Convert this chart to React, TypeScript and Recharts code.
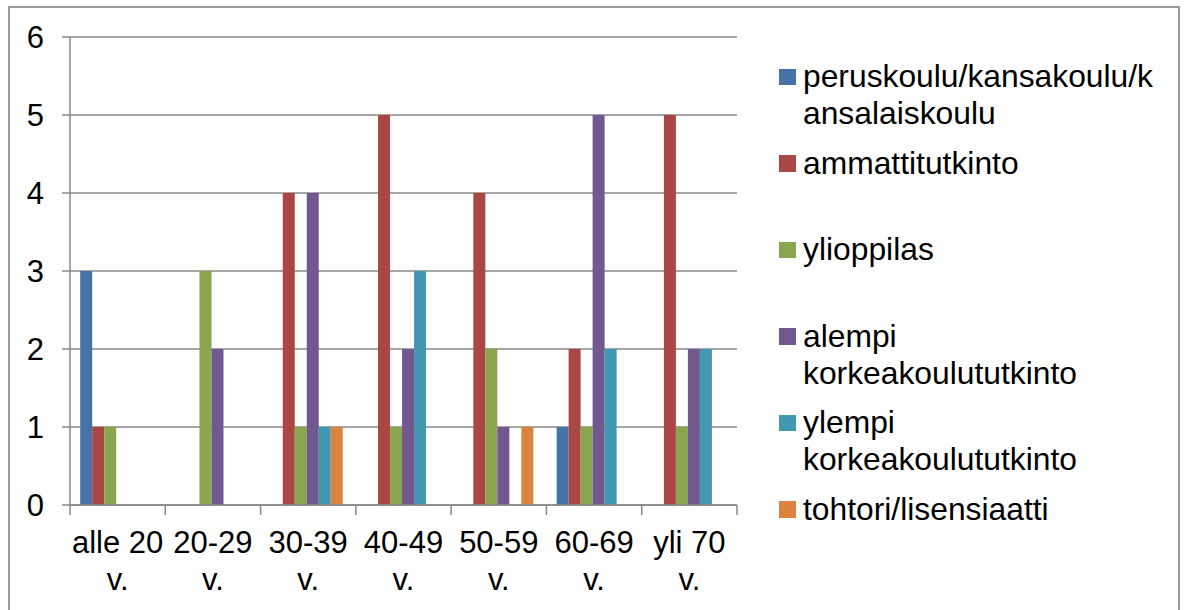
import React from "react";
import { BarChart, Bar, XAxis, YAxis, CartesianGrid } from "recharts";

const categories = ["alle 20 v.", "20-29 v.", "30-39 v.", "40-49 v.", "50-59 v.", "60-69 v.", "yli 70 v."];
const peruskoulu = [3, 0, 0, 0, 0, 1, 0];
const ammattitutkinto = [1, 0, 4, 5, 4, 2, 5];
const ylioppilas = [1, 3, 1, 1, 2, 1, 1];
const alempi = [0, 2, 4, 2, 1, 5, 2];
const ylempi = [0, 0, 1, 3, 0, 2, 2];
const tohtori = [0, 0, 1, 0, 1, 0, 0];
const yTicks = [0, 1, 2, 3, 4, 5, 6];

const seriesNames = [
  "peruskoulu/kansakoulu/kansalaiskoulu",
  "ammattitutkinto",
  "ylioppilas",
  "alempi korkeakoulututkinto",
  "ylempi korkeakoulututkinto",
  "tohtori/lisensiaatti",
];
const legendLines = [
  ["peruskoulu/kansakoulu/k", "ansalaiskoulu"],
  ["ammattitutkinto"],
  ["ylioppilas"],
  ["alempi", "korkeakoulututkinto"],
  ["ylempi", "korkeakoulututkinto"],
  ["tohtori/lisensiaatti"],
];
const colors = ["#4572A7", "#AA4643", "#89A54E", "#71588F", "#4198AF", "#DB843D"];
const seriesValues = [peruskoulu, ammattitutkinto, ylioppilas, alempi, ylempi, tohtori];
const keys = ["s0", "s1", "s2", "s3", "s4", "s5"];

const data = categories.map((c, i) => {
  const row: any = { name: c };
  keys.forEach((k, j) => (row[k] = seriesValues[j][i]));
  return row;
});

const FONT = "'Liberation Sans', Arial, sans-serif";
const FS = 31;
const LFS = 31.8;
const AXIS = "#888888";

const XTick = (props: any) => {
  const { x, y, payload, index, visibleTicksCount, width } = props;
  const band = width / visibleTicksCount;
  const label: string = payload.value;
  const sp = label.lastIndexOf(" ");
  const l1 = label.slice(0, sp);
  const l2 = label.slice(sp + 1);
  const left = x - band / 2;
  const right = x + band / 2;
  const top = y - 10;
  return (
    <g>
      <line x1={left} x2={left} y1={top} y2={top + 10} stroke={AXIS} strokeWidth={1.5} />
      {index === visibleTicksCount - 1 && (
        <line x1={right} x2={right} y1={top} y2={top + 10} stroke={AXIS} strokeWidth={1.5} />
      )}
      <text x={x} y={y} textAnchor="middle" fontSize={FS} fontFamily={FONT} fill="#000">
        <tspan x={x} dy={38}>{l1}</tspan>
        <tspan x={x} dy={37}>{l2}</tspan>
      </text>
    </g>
  );
};

const LegendBox = () => (
  <div style={{ position: "absolute", left: 779, top: 58, width: 400, fontFamily: FONT, fontSize: LFS, color: "#000" }}>
    {legendLines.map((lines, i) => (
      <div key={i} style={{ position: "relative", height: 86.6 }}>
        <div style={{ position: "absolute", left: 0, top: 10.5, width: 16.5, height: 16.5, background: colors[i] }} />
        <div style={{ position: "absolute", left: 24, top: 0, lineHeight: "37px", whiteSpace: "nowrap" }}>
          {lines.map((l, k) => (
            <div key={k}>{l}</div>
          ))}
        </div>
      </div>
    ))}
  </div>
);

export default function App() {
  return (
    <div style={{ position: "absolute", left: 0, top: 0, width: 1184, height: 610, background: "#fff", overflow: "hidden" }}>
      <div style={{ position: "absolute", left: 8, top: 6, width: 1172, height: 620, border: "2px solid #9a9a9a", boxSizing: "border-box" }} />
      <div style={{ position: "absolute", left: 0, top: 0 }}>
        <BarChart
          width={1184}
          height={610}
          data={data}
          margin={{ top: 37, right: 447, bottom: 10, left: 10 }}
          barCategoryGap="10.7%"
          barGap={0}
        >
          <CartesianGrid vertical={false} stroke={AXIS} strokeWidth={1.5} />
          <XAxis
            dataKey="name"
            height={95}
            tickLine={false}
            tickSize={10}
            tickMargin={0}
            interval={0}
            axisLine={{ stroke: AXIS, strokeWidth: 1.5 }}
            tick={<XTick />}
          />
          <YAxis
            width={60}
            domain={[0, 6]}
            ticks={yTicks}
            interval={0}
            tickSize={8}
            tickMargin={18}
            axisLine={{ stroke: AXIS, strokeWidth: 1.5 }}
            tickLine={{ stroke: AXIS, strokeWidth: 1.5 }}
            tick={{ fontSize: FS, fontFamily: FONT, fill: "#000" }}
          />
          {keys.map((k, j) => (
            <Bar key={k} dataKey={k} name={seriesNames[j]} fill={colors[j]} isAnimationActive={false} />
          ))}
        </BarChart>
      </div>
      <LegendBox />
    </div>
  );
}
